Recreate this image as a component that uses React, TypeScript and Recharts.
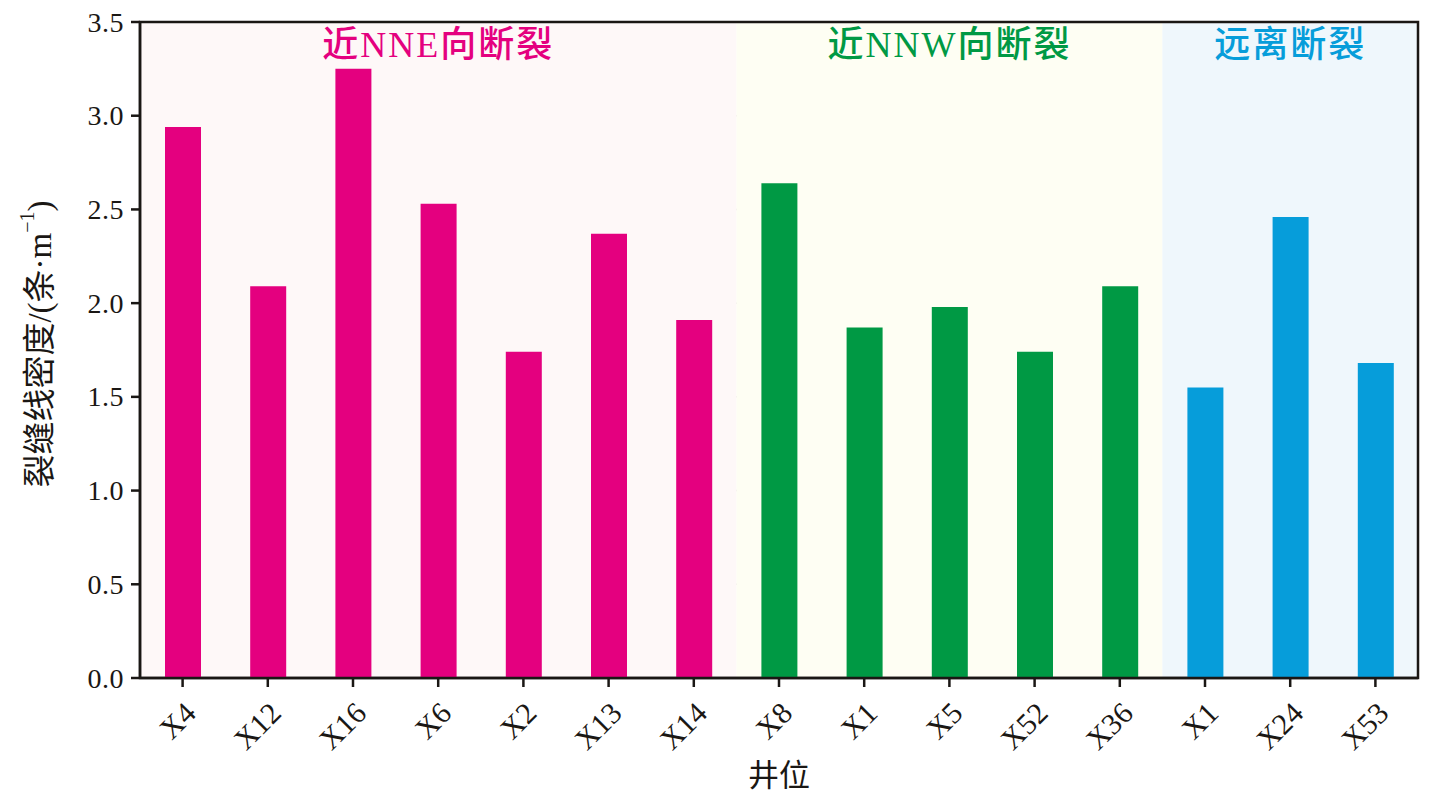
import { BarChart, Bar, XAxis, YAxis, CartesianGrid, ReferenceArea, Cell } from 'recharts'

// 井位 (第二个 X1 与第一个同名，所以按序号作类别键)
const wells = ['X4', 'X12', 'X16', 'X6', 'X2', 'X13', 'X14', 'X8', 'X1', 'X5', 'X52', 'X36', 'X1', 'X24', 'X53']
// 裂缝线密度 条/m
const density = [2.94, 2.09, 3.25, 2.53, 1.74, 2.37, 1.91, 2.64, 1.87, 1.98, 1.74, 2.09, 1.55, 2.46, 1.68]
// 分组: 0 = 近NNE向断裂, 1 = 近NNW向断裂, 2 = 远离断裂
const groupOf = [0, 0, 0, 0, 0, 0, 0, 1, 1, 1, 1, 1, 2, 2, 2]
const groupNames = ['近NNE向断裂', '近NNW向断裂', '远离断裂']
const groupColors = ['#E4007F', '#009944', '#069DDA']
const bandColors = ['#FEF8F8', '#FEFEF3', '#EFF7FC']
const yTicks = [0, 0.5, 1, 1.5, 2, 2.5, 3, 3.5]

const data = wells.map((name, i) => ({ id: String(i), name, value: density[i], group: groupOf[i] }))

const serif = '"Liberation Serif", "Times New Roman", "Noto Sans CJK SC", serif'
const ink = '#1a1714'

function XTick(props: any) {
  const { x, y, payload } = props
  const label = wells[Number(payload.value)]
  const tx = x + 15
  const ty = y + 26
  return (
    <text x={tx} y={ty} transform={`rotate(-45, ${tx}, ${ty})`} textAnchor="end" fontFamily={serif} fontSize={30} fill={ink}>
      {label}
    </text>
  )
}

function YTick(props: any) {
  const { x, y, payload } = props
  return (
    <text x={x - 5} y={y} textAnchor="end" dominantBaseline="central" fontFamily={serif} fontSize={28} letterSpacing={0.5} fill={ink}>
      {Number(payload.value).toFixed(1)}
    </text>
  )
}

function YLabel(props: any) {
  const { viewBox } = props
  const cx = 32
  const cy = viewBox.y + viewBox.height / 2 - 6
  return (
    <text
      x={cx}
      y={cy}
      transform={`rotate(-90, ${cx}, ${cy})`}
      textAnchor="middle"
      dominantBaseline="central"
      fontFamily={serif}
      fontSize={33}
      fill={ink}
    >
      <tspan>裂缝线密度/(条·m</tspan>
      <tspan dy={-13} fontSize={20}>−1</tspan>
      <tspan dy={13}>)</tspan>
    </text>
  )
}

export default function App() {
  // 每组的首末类别
  const ranges = groupNames.map((_, g) => {
    const idx = groupOf.map((v, i) => (v === g ? i : -1)).filter((i) => i >= 0)
    return [String(idx[0]), String(idx[idx.length - 1])]
  })

  return (
    <BarChart width={1420} height={786} data={data} margin={{ top: 14, right: 10, bottom: 0, left: 0 }}>
      {ranges.map(([a, b], g) => (
        <ReferenceArea
          key={g}
          x1={a}
          x2={b}
          fill={bandColors[g]}
          fillOpacity={1}
          stroke="none"
          label={{
            value: groupNames[g],
            position: 'insideTop',
            offset: 9,
            fill: groupColors[g],
            fontSize: 36,
            fontWeight: 500,
            fontFamily: serif,
            letterSpacing: 2,
          }}
        />
      ))}
      <CartesianGrid vertical={false} stroke="#DCDCDC" strokeWidth={1.5} strokeDasharray="10 8" />
      <XAxis
        dataKey="id"
        type="category"
        height={116}
        interval={0}
        tick={<XTick />}
        tickSize={9}
        axisLine={{ stroke: ink, strokeWidth: 2.5 }}
        tickLine={{ stroke: ink, strokeWidth: 2.5 }}
        label={{ value: '井位', position: 'insideBottom', offset: 8, fontSize: 31, fill: ink, fontFamily: serif }}
      />
      <YAxis
        domain={[0, 3.5]}
        ticks={yTicks}
        width={132}
        tickSize={9}
        tick={<YTick />}
        axisLine={{ stroke: ink, strokeWidth: 2.5 }}
        tickLine={{ stroke: ink, strokeWidth: 2.5 }}
        label={<YLabel />}
      />
      <Bar dataKey="value" barSize={36} isAnimationActive={false}>
        {data.map((d, i) => (
          <Cell key={i} fill={groupColors[d.group]} />
        ))}
      </Bar>
      {/* 外框 */}
      <ReferenceArea y1={0} y2={3.5} fill="none" stroke={ink} strokeWidth={2.5} />
    </BarChart>
  )
}
